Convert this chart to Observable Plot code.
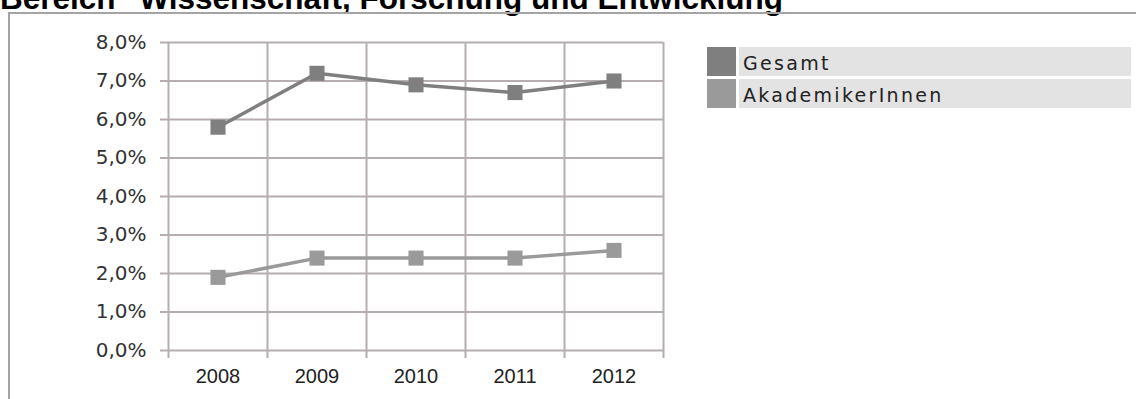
<!DOCTYPE html>
<html>
<head>
<meta charset="utf-8">
<script src="https://cdn.jsdelivr.net/npm/d3@7"></script>
<script src="https://cdn.jsdelivr.net/npm/@observablehq/plot@0.6"></script>
<style>
  html, body { margin: 0; padding: 0; width: 1136px; height: 399px; overflow: hidden; background: #fff; }
  #title { position: absolute; left: 0; top: -17px; font: bold 31.5px "Liberation Sans", Arial, sans-serif; line-height: 1; color: #000; white-space: nowrap; }
  #frame { position: absolute; left: 8px; top: 12px; width: 1300px; height: 600px; border-top: 2px solid #a4a4a4; border-left: 2px solid #a4a4a4; }
  #chart { position: absolute; left: 0; top: 0; }
  #legend { position: absolute; left: 707px; top: 47px; }
  .row { display: flex; height: 29px; margin-bottom: 3px; }
  .sw { width: 29px; height: 29px; margin-right: 3px; }
  .lab { width: 392px; height: 29px; background: #e3e3e3; font: 19px "DejaVu Sans", Verdana, sans-serif; letter-spacing: 2.3px; color: #222; line-height: 29px; padding-left: 4px; padding-top: 2px; box-sizing: border-box; }
</style>
</head>
<body>
<div id="title">Bereich "Wissenschaft, Forschung und Entwicklung"</div>
<div id="frame"></div>
<div id="chart"></div>
<div id="legend"></div>
<script>
const years = [2008, 2009, 2010, 2011, 2012];
const gesamt = [5.8, 7.2, 6.9, 6.7, 7.0];
const akademiker = [1.9, 2.4, 2.4, 2.4, 2.6];
const seriesNames = ["Gesamt", "AkademikerInnen"];
const seriesColors = ["#7f7f7f", "#9a9a9a"];
const yTicks = [0, 1, 2, 3, 4, 5, 6, 7, 8];

const data = [
  ...years.map((y, i) => ({year: y, value: gesamt[i], series: seriesNames[0]})),
  ...years.map((y, i) => ({year: y, value: akademiker[i], series: seriesNames[1]}))
];
const bounds = [...years.map(y => y - 0.5), years[years.length - 1] + 0.5];
const fmt = d => d.toFixed(1).replace(".", ",") + "%";
const gridColor = "#b5adaf";

const chart = Plot.plot({
  width: 700,
  height: 399,
  marginLeft: 168,
  marginRight: 37,
  marginTop: 42,
  marginBottom: 49,
  style: {background: "transparent", overflow: "visible"},
  x: {type: "linear", domain: [bounds[0], bounds[bounds.length - 1]]},
  y: {domain: [0, 8]},
  color: {domain: seriesNames, range: seriesColors},
  marks: [
    Plot.ruleY(yTicks, {stroke: gridColor, strokeWidth: 2}),
    Plot.ruleX(bounds, {stroke: gridColor, strokeWidth: 2}),
    Plot.axisY(yTicks, {tickSize: 8, tickPadding: 14, tickFormat: fmt, stroke: gridColor, strokeWidth: 2, strokeOpacity: 1,
      fontFamily: "DejaVu Sans", fontSize: 20, letterSpacing: 1, fill: "#333", label: null}),
    Plot.axisX(bounds, {tickSize: 8, tickFormat: () => "", stroke: gridColor, strokeWidth: 2, strokeOpacity: 1, label: null}),
    Plot.axisX(years, {tickSize: 0, tickPadding: 18, tickFormat: d => String(d),
      fontFamily: "Liberation Sans", fontSize: 20, fill: "#222", label: null}),
    Plot.line(data, {x: "year", y: "value", z: "series", stroke: "series", strokeWidth: 3.5}),
    Plot.dot(data, {x: "year", y: "value", fill: "series", symbol: "square", r: 8.5, stroke: "none"})
  ]
});
document.getElementById("chart").appendChild(chart);

const legend = document.getElementById("legend");
seriesNames.forEach((name, i) => {
  const row = document.createElement("div");
  row.className = "row";
  const sw = document.createElement("div");
  sw.className = "sw";
  sw.style.background = seriesColors[i];
  const lab = document.createElement("div");
  lab.className = "lab";
  lab.textContent = name;
  row.appendChild(sw);
  row.appendChild(lab);
  legend.appendChild(row);
});
</script>
</body>
</html>
